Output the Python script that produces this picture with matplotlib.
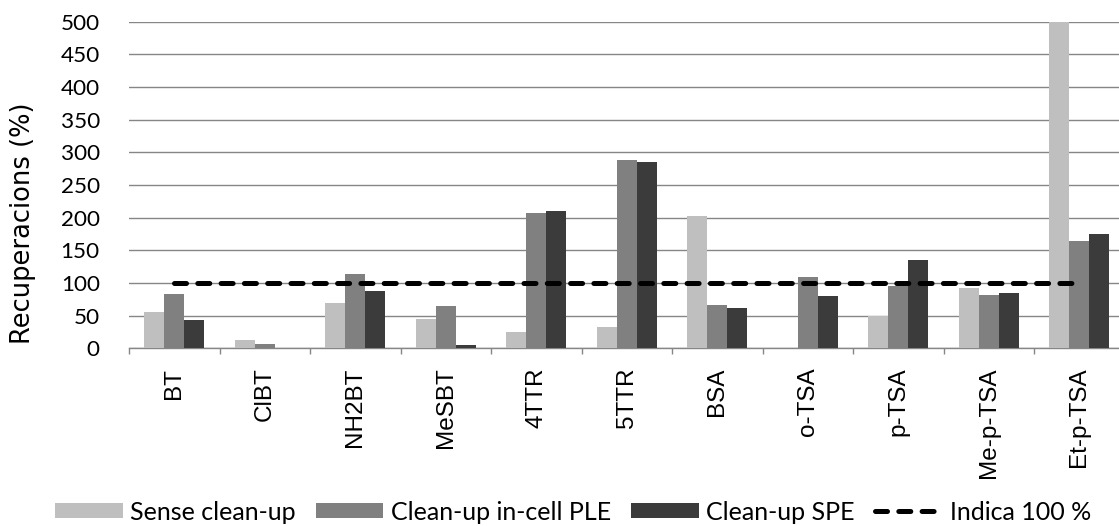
import matplotlib
matplotlib.use("Agg")
import matplotlib.pyplot as plt
import numpy as np
from matplotlib.lines import Line2D
from matplotlib.patches import Patch

# Recovery data per compound (%)
compounds = ["BT", "ClBT", "NH2BT", "MeSBT", "4TTR", "5TTR", "BSA",
             "o-TSA", "p-TSA", "Me-p-TSA", "Et-p-TSA"]
sense_cleanup = [55, 12, 69, 45, 25, 33, 203, 0, 49, 93, 500]
cleanup_ple = [83, 7, 114, 65, 207, 288, 66, 109, 95, 82, 165]
cleanup_spe = [44, 1, 87, 5, 210, 285, 61, 80, 135, 84, 175]
reference_100 = [100] * len(compounds)

series_names = ["Sense clean-up", "Clean-up in-cell PLE", "Clean-up SPE",
                "Indica 100 %"]
bar_colors = ["#BFBFBF", "#808080", "#3B3B3B"]
y_ticks = list(range(0, 501, 50))

W, H = 1119, 526
fig = plt.figure(figsize=(W / 100, H / 100), dpi=100)
ax = fig.add_axes([129 / W, (H - 348.3) / H, (1124.5 - 129) / W,
                   (348.3 - 21.7) / H])

x = np.arange(len(compounds))
bw = 1 / 4.5
for i, (vals, col) in enumerate(zip([sense_cleanup, cleanup_ple, cleanup_spe],
                                    bar_colors)):
    ax.bar(x + (i - 1) * bw, vals, width=bw, color=col, zorder=3,
           linewidth=0)

line, = ax.plot(x, reference_100, color="black", lw=3.6, zorder=4,
                dash_capstyle="round", solid_capstyle="round")
line.set_dashes((2.4, 2.26))

ax.set_xlim(-0.5, len(compounds) - 0.5)
ax.set_ylim(0, 500)
ax.set_yticks(y_ticks)
ax.yaxis.grid(True, color="#868686", lw=1.0, zorder=0)
ax.set_axisbelow(True)

for s in ["top", "right", "left"]:
    ax.spines[s].set_visible(False)
ax.spines["bottom"].set_color("#868686")
ax.spines["bottom"].set_linewidth(1.0)
ax.spines["bottom"].set_zorder(2)

ax.tick_params(axis="y", length=0, pad=21)
for lab in ax.get_yticklabels():
    lab.set_fontfamily("Lato")
    lab.set_fontsize(16.2)
    lab.set_color("#000000")

ax.set_xticks(x)
ax.set_xticklabels(compounds, rotation=90, family="Liberation Sans",
                   fontsize=17.5, va="top", ha="center")
ax.tick_params(axis="x", which="major", length=0, pad=14)
ax.set_xticks(np.arange(-0.5, len(compounds) + 0.5, 1), minor=True)
ax.tick_params(axis="x", which="minor", length=4.5, width=1.0,
               color="#868686", direction="out")

fig.text(23 / W, 1 - 223 / H, "Recuperacions (%)", rotation=90,
         ha="center", va="center", family="DejaVu Sans", fontsize=18.5)

handles = [Patch(facecolor=c, edgecolor="none") for c in bar_colors]
lh = Line2D([], [], color="black", lw=3.6, dash_capstyle="round")
lh.set_dashes((2.4, 2.26))
handles.append(lh)
fig.legend(handles, series_names, loc="center", ncol=4,
           bbox_to_anchor=(573 / W, 1 - 512 / H), frameon=False,
           prop=dict(family="Lato", size=18), handlelength=2.7,
           handleheight=0.56, handletextpad=0.3, columnspacing=0.8,
           borderpad=0, borderaxespad=0)

fig.savefig("out.png", dpi=100)
